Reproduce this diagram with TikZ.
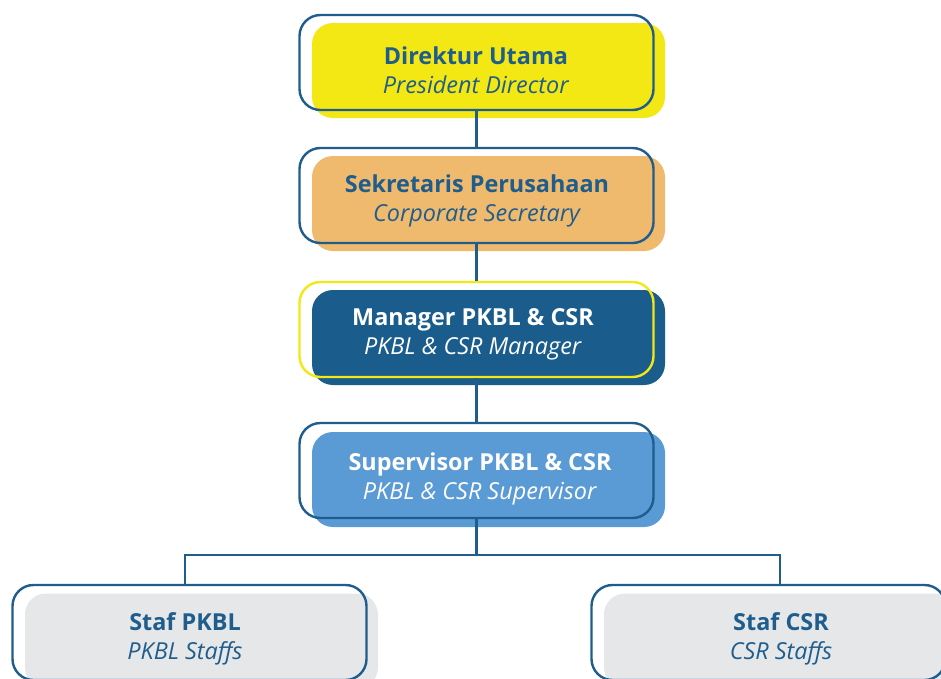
\documentclass[tikz,border=0pt]{standalone}
\usepackage{fontspec}
\setmainfont{Open Sans}
\definecolor{lineblue}{HTML}{1F5D8C}
\definecolor{cardyellow}{HTML}{F3E714}
\definecolor{cardorange}{HTML}{EFB96E}
\definecolor{carddark}{HTML}{1A5C8C}
\definecolor{cardmid}{HTML}{5B9BD5}
\definecolor{cardgray}{HTML}{E6E7E9}
\begin{document}
\begin{tikzpicture}[x=1pt,y=-1pt,
  shadowcard/.style={rectangle, rounded corners=21pt, minimum width=353pt, minimum height=95pt, inner sep=0pt, draw=none},
  framecard/.style={rectangle, rounded corners=21pt, minimum width=354pt, minimum height=95pt, inner sep=0pt, draw=lineblue, line width=2.4pt},
  cardtext/.style={align=center, font=\fontsize{23.4}{29}\selectfont, text=lineblue},
  link/.style={draw=lineblue, line width=2.4pt}]
\useasboundingbox (0,0) rectangle (941,678);
\clip (0,0) rectangle (941,678);

% coloured backing plates, offset down and to the right
\node[shadowcard, fill=cardyellow] (b1) at (488.5,70.5) {};
\node[shadowcard, fill=cardorange] (b2) at (488.5,203.5) {};
\node[shadowcard, fill=carddark]   (b3) at (488.5,337.5) {};
\node[shadowcard, fill=cardmid]    (b4) at (488.5,479.5) {};
\node[shadowcard, fill=cardgray]   (b5) at (201.5,641) {};
\node[shadowcard, fill=cardgray]   (b6) at (780.5,641) {};

% outlined frames
\node[framecard] (d1) at (476.5,62.5) {};
\node[framecard] (d2) at (476.5,195.5) {};
\node[framecard, draw=cardyellow] (d3) at (476.5,329.5) {};
\node[framecard] (d4) at (476.5,470.5) {};
\node[framecard] (d5) at (189.5,632.5) {};
\node[framecard] (d6) at (768.5,632.5) {};

% titles
\node[cardtext] (t1) at (476,70) {\textbf{Direktur Utama}\\\textit{President Director}};
\node[cardtext] (t2) at (477,201) {\textbf{Sekretaris Perusahaan}\\\textit{Corporate Secretary}};
\node[cardtext, text=white] (t3) at (473,334) {\textbf{Manager PKBL \& CSR}\\\textit{PKBL \& CSR Manager}};
\node[cardtext, text=white] (t4) at (480,479) {\textbf{Supervisor PKBL \& CSR}\\\textit{PKBL \& CSR Supervisor}};
\node[cardtext] (t5) at (185,638.5) {\textbf{Staf PKBL}\\\textit{PKBL Staffs}};
\node[cardtext] (t6) at (781,638.5) {\textbf{Staf CSR}\\\textit{CSR Staffs}};

% reporting lines
\coordinate (split) at (476.5,555);
\coordinate (j5) at (185,555);
\coordinate (j6) at (780,555);
\draw[link] (d1.south) -- (d2.north);
\draw[link] (d2.south) -- (d3.north);
\draw[link] (d3.south) -- (d4.north);
\draw[link] (d4.south) -- (split);
\draw[link] (j5 |- d5.north) -- (j5) -- (j6) -- (j6 |- d6.north);
\end{tikzpicture}
\end{document}
